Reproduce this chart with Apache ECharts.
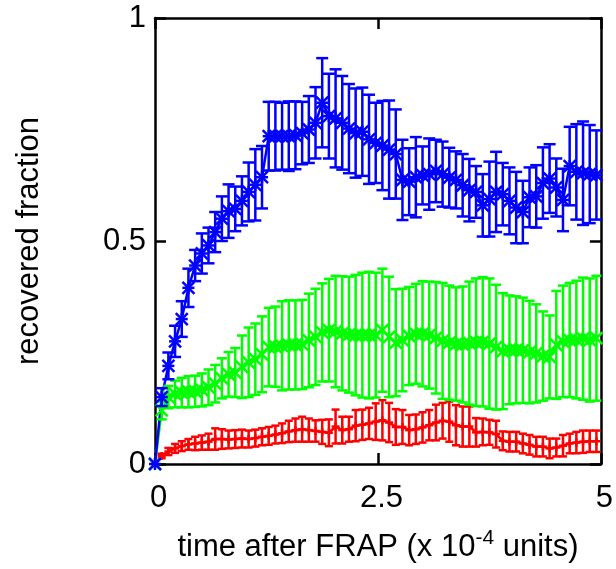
<!DOCTYPE html>
<html>
<head>
<meta charset="utf-8">
<script src="https://cdn.jsdelivr.net/npm/echarts@6/dist/echarts.min.js"></script>
<style>
  html, body { margin: 0; padding: 0; background: #fff; }
  #chart { width: 616px; height: 569px; }
</style>
</head>
<body>
<div id="chart"></div>
<script>
// temps (x 10^-4 unités)
const TIME = [0, 0.075, 0.15, 0.225, 0.3, 0.375, 0.45, 0.525, 0.6, 0.675,
  0.75, 0.825, 0.9, 0.975, 1.05, 1.125, 1.2, 1.275, 1.35, 1.425,
  1.5, 1.575, 1.65, 1.725, 1.8, 1.875, 1.95, 2.025, 2.1, 2.175,
  2.25, 2.325, 2.4, 2.475, 2.55, 2.625, 2.7, 2.775, 2.85, 2.925,
  3.0, 3.075, 3.15, 3.225, 3.3, 3.375, 3.45, 3.525, 3.6, 3.675,
  3.75, 3.825, 3.9, 3.975, 4.05, 4.125, 4.2, 4.275, 4.35, 4.425,
  4.5, 4.575, 4.65, 4.725, 4.8, 4.875, 4.95];

const BLUE_Y = [0, 0.15, 0.22, 0.275, 0.325, 0.395, 0.445, 0.472, 0.49, 0.52,
  0.55, 0.567, 0.572, 0.59, 0.61, 0.626, 0.643, 0.735, 0.735, 0.735,
  0.735, 0.737, 0.742, 0.75, 0.765, 0.81, 0.78, 0.775, 0.765, 0.752,
  0.742, 0.745, 0.728, 0.72, 0.714, 0.705, 0.695, 0.637, 0.633, 0.643,
  0.647, 0.65, 0.657, 0.65, 0.642, 0.637, 0.625, 0.614, 0.61, 0.58,
  0.594, 0.61, 0.605, 0.59, 0.575, 0.565, 0.598, 0.6, 0.63, 0.64,
  0.62, 0.592, 0.668, 0.655, 0.652, 0.65, 0.648];
const BLUE_ERR = [0, 0.02, 0.03, 0.035, 0.04, 0.043, 0.035, 0.045, 0.04, 0.045,
  0.05, 0.06, 0.05, 0.055, 0.066, 0.08, 0.07, 0.077, 0.077, 0.075,
  0.078, 0.076, 0.07, 0.075, 0.08, 0.1, 0.095, 0.11, 0.105, 0.1,
  0.1, 0.099, 0.1, 0.09, 0.1, 0.11, 0.1, 0.09, 0.075, 0.09,
  0.065, 0.08, 0.07, 0.073, 0.067, 0.064, 0.07, 0.07, 0.058, 0.07,
  0.084, 0.09, 0.07, 0.075, 0.08, 0.07, 0.067, 0.07, 0.08, 0.077,
  0.065, 0.07, 0.088, 0.107, 0.116, 0.11, 0.1];

const GREEN_Y = [0, 0.12, 0.15, 0.157, 0.16, 0.162, 0.163, 0.166, 0.172, 0.18,
  0.192, 0.201, 0.205, 0.218, 0.228, 0.235, 0.246, 0.262, 0.263, 0.265,
  0.267, 0.267, 0.268, 0.277, 0.285, 0.295, 0.3, 0.297, 0.293, 0.29,
  0.289, 0.289, 0.289, 0.289, 0.3, 0.285, 0.272, 0.278, 0.287, 0.292,
  0.292, 0.289, 0.283, 0.276, 0.272, 0.269, 0.268, 0.271, 0.273, 0.274,
  0.27, 0.262, 0.253, 0.256, 0.256, 0.255, 0.251, 0.248, 0.242, 0.24,
  0.267, 0.275, 0.278, 0.279, 0.281, 0.278, 0.282];
const GREEN_ERR = [0, 0.02, 0.025, 0.03, 0.033, 0.035, 0.035, 0.037, 0.04, 0.042,
  0.045, 0.05, 0.055, 0.07, 0.078, 0.08, 0.085, 0.088, 0.09, 0.1,
  0.1, 0.1, 0.1, 0.105, 0.108, 0.11, 0.115, 0.125, 0.128, 0.13,
  0.135, 0.14, 0.142, 0.14, 0.138, 0.135, 0.12, 0.115, 0.11, 0.112,
  0.118, 0.12, 0.125, 0.13, 0.128, 0.127, 0.13, 0.138, 0.143, 0.145,
  0.146, 0.14, 0.13, 0.122, 0.12, 0.118, 0.115, 0.11, 0.1, 0.093,
  0.121, 0.125, 0.128, 0.132, 0.137, 0.138, 0.14];

const RED_Y = [0, 0.018, 0.028, 0.035, 0.04, 0.044, 0.046, 0.048, 0.05, 0.056,
  0.056, 0.055, 0.056, 0.057, 0.056, 0.058, 0.061, 0.063, 0.066, 0.069,
  0.073, 0.076, 0.078, 0.076, 0.074, 0.072, 0.07, 0.084, 0.076, 0.078,
  0.086, 0.088, 0.091, 0.095, 0.098, 0.093, 0.083, 0.083, 0.076, 0.078,
  0.082, 0.087, 0.093, 0.097, 0.095, 0.087, 0.084, 0.084, 0.071, 0.072,
  0.071, 0.067, 0.052, 0.05, 0.05, 0.046, 0.043, 0.039, 0.039, 0.035,
  0.037, 0.041, 0.046, 0.048, 0.05, 0.051, 0.051];
const RED_ERR = [0, 0.005, 0.008, 0.01, 0.011, 0.012, 0.015, 0.016, 0.018, 0.024,
  0.022, 0.02, 0.02, 0.02, 0.019, 0.019, 0.019, 0.02, 0.02, 0.022,
  0.024, 0.026, 0.028, 0.026, 0.024, 0.027, 0.03, 0.038, 0.03, 0.028,
  0.035, 0.034, 0.035, 0.041, 0.045, 0.044, 0.04, 0.038, 0.034, 0.033,
  0.034, 0.034, 0.04, 0.04, 0.045, 0.045, 0.045, 0.045, 0.032, 0.03,
  0.028, 0.03, 0.021, 0.022, 0.022, 0.022, 0.022, 0.022, 0.022, 0.022,
  0.02, 0.024, 0.022, 0.024, 0.025, 0.024, 0.024];

const X_TICKS = [0, 2.5, 5];
const Y_TICKS = [0, 0.5, 1];

const FONT = "Liberation Sans";

// barre d'erreur + symbole gnuplot (plus, croix, étoile)
function errorBars(color, cap, mark, size) {
  return function (params, api) {
    const t = api.value(0), v = api.value(1), e = api.value(2);
    const c = api.coord([t, v]);
    const hi = api.coord([t, v + e]);
    const lo = api.coord([t, v - e]);
    const style = { stroke: color, lineWidth: 2.5 };
    const seg = (x1, y1, x2, y2) => ({ type: "line", shape: { x1, y1, x2, y2 }, style });
    const kids = [];
    if (e > 0) {
      kids.push(seg(hi[0], hi[1], lo[0], lo[1]));
      kids.push(seg(hi[0] - cap, hi[1], hi[0] + cap, hi[1]));
      kids.push(seg(lo[0] - cap, lo[1], lo[0] + cap, lo[1]));
    }
    const s = size / 2;
    if (mark === "plus" || mark === "star") {
      kids.push(seg(c[0] - s, c[1], c[0] + s, c[1]));
      kids.push(seg(c[0], c[1] - s, c[0], c[1] + s));
    }
    if (mark === "cross" || mark === "star") {
      kids.push(seg(c[0] - s, c[1] - s, c[0] + s, c[1] + s));
      kids.push(seg(c[0] - s, c[1] + s, c[0] + s, c[1] - s));
    }
    return { type: "group", children: kids };
  };
}

function makeSeries(name, color, ys, errs, cap, mark, size) {
  const pts = TIME.map((t, i) => [t, ys[i]]);
  const bars = TIME.map((t, i) => [t, ys[i], errs[i]]);
  return [
    {
      name: name,
      type: "line",
      data: pts,
      showSymbol: false,
      silent: true,
      lineStyle: { color: color, width: 2.5 },
      z: 2,
    },
    {
      name: name + " err",
      type: "custom",
      data: bars,
      encode: { x: 0, y: 1 },
      clip: false,
      silent: true,
      renderItem: errorBars(color, cap, mark, size),
      z: 3,
    },
  ];
}

const chart = echarts.init(document.getElementById("chart"), null, { renderer: "canvas" });

const tickStyle = { show: true, inside: true, length: 11, lineStyle: { color: "#000", width: 2.5 } };
const lineStyle = { show: true, onZero: false, lineStyle: { color: "#000", width: 2.5 } };

chart.setOption({
  animation: false,
  backgroundColor: "#fff",
  grid: { left: 155, right: 15, top: 18, bottom: 105 },
  xAxis: [
    {
      type: "value", min: 0, max: 5, interval: 2.5,
      axisLine: lineStyle, axisTick: tickStyle, splitLine: { show: false },
      axisLabel: {
        fontFamily: FONT, fontSize: 31, color: "#000", margin: 19,
        padding: [0, 0, 0, 7],
        formatter: (v) => (X_TICKS.includes(v) ? String(v) : ""),
      },
      name: "time after FRAP (x 10{sup|-4} units)",
      nameLocation: "middle",
      nameGap: 64,
      nameTextStyle: {
        fontFamily: FONT, fontSize: 31, color: "#000",
        rich: { sup: { fontFamily: FONT, fontSize: 21, color: "#000", padding: [0, 0, 17, 0] } },
      },
    },
    {
      type: "value", min: 0, max: 5, interval: 2.5, position: "top",
      axisLine: lineStyle, axisTick: tickStyle, axisLabel: { show: false }, splitLine: { show: false },
    },
  ],
  yAxis: [
    {
      type: "value", min: 0, max: 1, interval: 0.5,
      axisLine: lineStyle, axisTick: tickStyle, splitLine: { show: false },
      axisLabel: {
        fontFamily: FONT, fontSize: 31, color: "#000", margin: 9,
        formatter: (v) => (Y_TICKS.includes(v) ? String(v) : ""),
      },
      name: "recovered fraction",
      nameLocation: "middle",
      nameGap: 110,
      nameTextStyle: { fontFamily: FONT, fontSize: 31, color: "#000" },
    },
    {
      type: "value", min: 0, max: 1, interval: 0.5, position: "right",
      axisLine: lineStyle, axisTick: tickStyle, axisLabel: { show: false }, splitLine: { show: false },
    },
  ],
  series: [
    ...makeSeries("red", "#ff0000", RED_Y, RED_ERR, 4, "plus", 8),
    ...makeSeries("green", "#00ff00", GREEN_Y, GREEN_ERR, 5, "cross", 12),
    ...makeSeries("blue", "#0000ff", BLUE_Y, BLUE_ERR, 6, "star", 12),
  ],
});
</script>
</body>
</html>
